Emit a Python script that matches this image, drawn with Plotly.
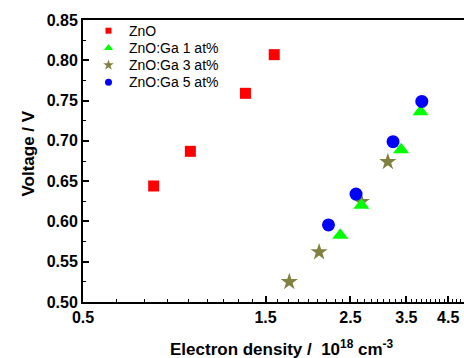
import numpy as np
import plotly.graph_objects as go

# ---- data ----
series_names = ["ZnO", "ZnO:Ga 1 at%", "ZnO:Ga 3 at%", "ZnO:Ga 5 at%"]
zno_x = [0.765, 0.954, 1.329, 1.58]
zno_y = [0.644, 0.687, 0.759, 0.807]
ga1_x = [2.35, 2.67, 3.39, 3.81]
ga1_y = [0.583, 0.620, 0.689, 0.736]
ga3_x = [1.73, 2.07, 2.67, 3.13]
ga3_y = [0.525, 0.562, 0.6245, 0.674]
ga5_x = [2.19, 2.585, 3.23, 3.84]
ga5_y = [0.5956, 0.634, 0.699, 0.749]
x_tick_vals = [0.5, 1.5, 2.5, 3.5, 4.5]
x_tick_text = ["0.5", "1.5", "2.5", "3.5", "4.5"]

colors = ["#FF0000", "#00FF00", "#808040", "#0000FF"]
symbols = ["square", "triangle-up", "star", "circle"]
sizes = [11, 14, 13, 13]

W, H = 464, 358
L, R, T, B = 83, 0, 20, 56
PW, PH = W - L - R, H - T - B
XMIN, XMAX = 0.5, 4.95
YMIN, YMAX = 0.50, 0.85


def px(xp):
    return (xp - L) / PW


def py(yp):
    return (H - B - yp) / PH


def xdata(xp):
    return XMIN * 10 ** (px(xp) * np.log10(XMAX / XMIN))


def ydata(yp):
    return YMIN + py(yp) * (YMAX - YMIN)


fig = go.Figure()
data = [(zno_x, zno_y), (ga1_x, ga1_y), (ga3_x, ga3_y), (ga5_x, ga5_y)]
order = [0, 2, 1, 3]
for i in order:
    xs, ys = data[i]
    fig.add_trace(go.Scatter(x=xs, y=ys, mode="markers", name=series_names[i],
                             marker=dict(symbol=symbols[i], color=colors[i], size=sizes[i],
                                         line=dict(width=0)),
                             showlegend=False))

# custom legend (positions given in pixels, converted to axis units)
leg_x = 108.5
leg_y0 = 30.7
leg_dy = 17.2
leg_sizes = [6, 8, 8, 7]
for i in range(4):
    yy = leg_y0 + i * leg_dy
    fig.add_trace(go.Scatter(x=[xdata(leg_x)], y=[ydata(yy)],
                             mode="markers", showlegend=False, hoverinfo="skip",
                             marker=dict(symbol=symbols[i], color=colors[i], size=leg_sizes[i],
                                         line=dict(width=0))))
    fig.add_annotation(x=px(127), y=py(yy), xref="paper", yref="paper",
                       text=series_names[i], showarrow=False, xanchor="left", yanchor="middle",
                       font=dict(family="Liberation Sans, Arial", size=14, color="black"))

# minor ticks: 8 per major interval
minor_vals = []
for a in np.arange(0.5, 5.0, 1.0):
    for k in range(1, 9):
        v = a + k / 9.0
        if v < XMAX:
            minor_vals.append(v)

tickfont = dict(family="Liberation Sans, Arial", size=16, color="black", weight="bold")
fig.update_layout(
    width=W, height=H,
    margin=dict(l=L, r=R, t=T, b=B),
    paper_bgcolor="white", plot_bgcolor="white",
    showlegend=False,
    xaxis=dict(type="log", range=[np.log10(XMIN), np.log10(XMAX)],
               tickmode="array", tickvals=x_tick_vals, ticktext=x_tick_text,
               ticks="inside", ticklen=6, tickwidth=1.5, tickcolor="black",
               showline=True, linecolor="black", linewidth=2, mirror=True,
               showgrid=False, zeroline=False, tickfont=tickfont,
               minor=dict(tickmode="array", tickvals=minor_vals, ticks="inside",
                          ticklen=3, tickwidth=1.2, tickcolor="black", showgrid=False)),
    yaxis=dict(range=[YMIN, YMAX], tickmode="linear", tick0=0.5, dtick=0.05, tickformat=".2f",
               ticks="inside", ticklen=6, tickwidth=1.5, tickcolor="black",
               showline=True, linecolor="black", linewidth=2, mirror=False,
               showgrid=False, zeroline=False, tickfont=tickfont,
               minor=dict(dtick=0.025, tick0=0.5, ticks="inside", ticklen=3, tickwidth=1.2,
                          tickcolor="black", showgrid=False)),
)

titlefont = dict(family="Liberation Sans, Arial", size=17, color="black", weight="bold")
fig.add_annotation(x=px(168), y=py(348), xref="paper", yref="paper", xanchor="left", yanchor="middle",
                   text="Electron density /  10<sup>18</sup> cm<sup>-3</sup>",
                   showarrow=False, font=titlefont)
fig.add_annotation(x=px(28), y=py(153.5), xref="paper", yref="paper", xanchor="center", yanchor="middle",
                   text="Voltage / V", textangle=-90, showarrow=False, font=titlefont)

fig.write_html("out.html")
